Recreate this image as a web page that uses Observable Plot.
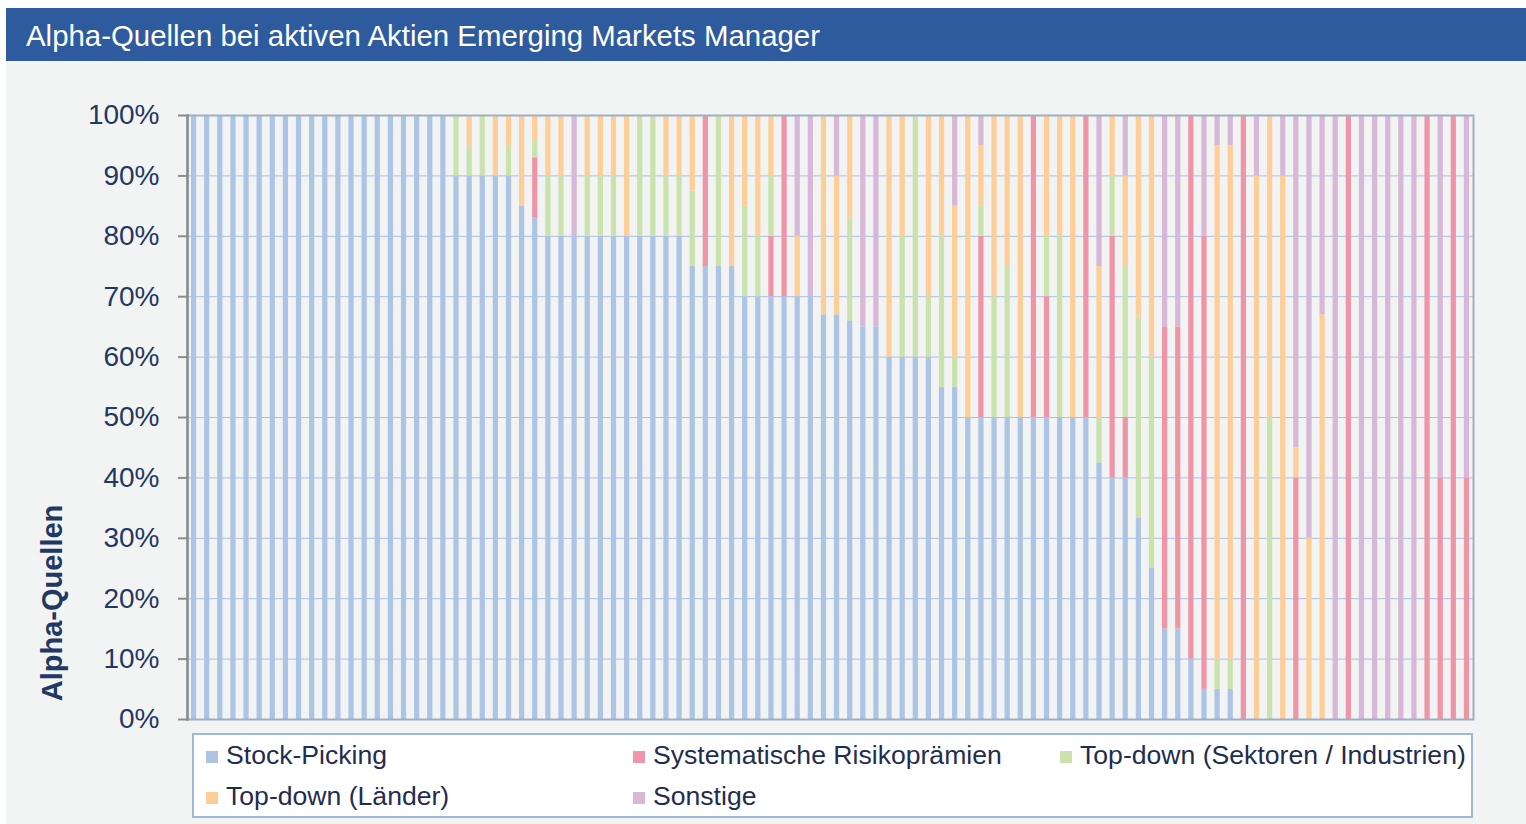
<!DOCTYPE html>
<html><head><meta charset="utf-8">
<script src="https://cdn.jsdelivr.net/npm/d3@7"></script>
<script src="https://cdn.jsdelivr.net/npm/@observablehq/plot@0.6"></script>
<style>
  html, body { margin: 0; padding: 0; background: #ffffff; }
  body { width: 1526px; height: 824px; position: relative; overflow: hidden; font-family: "Liberation Sans", Arial, sans-serif; }
  #title { position: absolute; left: 6px; top: 8px; width: 1500px; height: 53px; padding-left: 20px;
           background: #2E5B9D; color: #ffffff; font-size: 29.4px; line-height: 56px; white-space: nowrap; }
  #panel { position: absolute; left: 6px; top: 61px; width: 1520px; height: 763px; background: #F2F4F3; }
  #chart { position: absolute; left: 0; top: 0; }
  #ytitle { position: absolute; left: 46px; top: 542px; width: 0; height: 0; }
  #ytitle span { position: absolute; transform: translate(-50%, -50%) rotate(-90deg); white-space: nowrap;
                 font-weight: bold; font-size: 29px; color: #1F3864; }
  #legend { position: absolute; left: 186px; top: 672px; width: 1277px; height: 81px; background: #ffffff;
            border: 2px solid #9DB7DD; }
  .item { position: absolute; height: 30px; line-height: 30px; font-size: 26.6px; color: #1F2D50; white-space: nowrap; }
  .sw { display: inline-block; width: 12px; height: 12px; margin-right: 8px; vertical-align: 1px; }
</style></head>
<body>
<div id="title">Alpha-Quellen bei aktiven Aktien Emerging Markets Manager</div>
<div id="panel">
  <div id="chart"></div>
  <div id="ytitle"><span>Alpha-Quellen</span></div>
  <div id="legend"></div>
</div>
<script>
const managers = [1,2,3,4,5,6,7,8,9,10,11,12,13,14,15,16,17,18,19,20,
  21,22,23,24,25,26,27,28,29,30,31,32,33,34,35,36,37,38,39,40,
  41,42,43,44,45,46,47,48,49,50,51,52,53,54,55,56,57,58,59,60,
  61,62,63,64,65,66,67,68,69,70,71,72,73,74,75,76,77,78,79,80,
  81,82,83,84,85,86,87,88,89,90,91,92,93,94,95,96,97,98];

const seriesNames = ["Stock-Picking", "Systematische Risikoprämien", "Top-down (Sektoren / Industrien)", "Top-down (Länder)", "Sonstige"];
const seriesColors = ["#AEC4E5", "#F095A8", "#CBE2AD", "#FDCE98", "#D7B8D7"];
const yTicks = [0, 10, 20, 30, 40, 50, 60, 70, 80, 90, 100];

const stockPicking = [
  100,100,100,100,100,100,100,100,100,100,
  100,100,100,100,100,100,100,100,100,100,
  90,90,90,90,90,85,83,80,80,80,
  80,80,80,80,80,80,80,80,75,75,
  75,75,70,70,70,70,70,70,67,67,
  66,65,65,60,60,60,60,55,55,50,
  50,50,50,50,50,50,50,50,50,42.5,
  40,40,33.3,25,15,15,10,5,5,5,
  0,0,0,0,0,0,0,0,0,0,
  0,0,0,0,0,0,0,0];
const systematisch = [
  0,0,0,0,0,0,0,0,0,0,
  0,0,0,0,0,0,0,0,0,0,
  0,0,0,0,0,0,10,0,0,0,
  0,0,0,0,0,0,0,0,0,25,
  0,0,0,0,10,30,0,0,0,0,
  0,0,0,0,0,0,0,0,0,0,
  30,0,0,0,50,20,0,0,50,0,
  40,10,0,0,50,50,90,75,0,0,
  100,0,0,0,40,0,0,0,100,0,
  0,0,0,0,100,40,100,40];
const sektoren = [
  0,0,0,0,0,0,0,0,0,0,
  0,0,0,0,0,0,0,0,0,0,
  10,5,10,0,5,0,3,10,10,0,
  10,10,10,0,20,20,10,10,12.5,0,
  25,0,15,10,10,0,0,0,0,0,
  17,0,0,0,20,40,10,25,5,0,
  5,20,25,0,0,10,30,0,0,7.5,
  10,25,33.3,35,0,0,0,0,5,5,
  0,0,50,0,0,0,0,0,0,0,
  0,0,0,0,0,0,0,0];
const laender = [
  0,0,0,0,0,0,0,0,0,0,
  0,0,0,0,0,0,0,0,0,0,
  0,5,0,10,5,15,4,10,10,0,
  10,10,10,20,0,0,10,10,12.5,0,
  0,25,15,20,10,0,10,0,33,23,
  17,0,0,40,20,0,30,20,25,50,
  10,30,25,50,0,20,20,50,0,25,
  10,15,33.4,40,0,0,0,0,85,85,
  0,90,50,90,5,30,67,0,0,0,
  0,0,0,0,0,0,0,0];
const sonstige = [
  0,0,0,0,0,0,0,0,0,0,
  0,0,0,0,0,0,0,0,0,0,
  0,0,0,0,0,0,0,0,0,20,
  0,0,0,0,0,0,0,0,0,0,
  0,0,0,0,0,0,20,30,0,10,
  0,35,35,0,0,0,0,0,15,0,
  5,0,0,0,0,0,0,0,0,25,
  0,10,0,0,35,35,0,20,5,5,
  0,10,0,10,55,70,33,100,0,100,
  100,100,100,100,0,60,0,60];

const seriesValues = [stockPicking, systematisch, sektoren, laender, sonstige];
const table = [];
managers.forEach((m, i) => {
  seriesValues.forEach((arr, k) => table.push({manager: m, series: seriesNames[k], value: arr[i]}));
});

const font = '"Liberation Sans", Arial, sans-serif';
const chart = Plot.plot({
  width: 1520,
  height: 670,
  marginLeft: 181,
  marginRight: 53,
  marginTop: 54,
  marginBottom: 12,
  style: {background: "transparent", fontFamily: font, fontSize: "28px", overflow: "visible"},
  x: {type: "band", domain: managers, paddingInner: 0.6, paddingOuter: 0.3, round: false, axis: null},
  y: {domain: [0, 100], axis: null},
  color: {domain: seriesNames, range: seriesColors},
  marks: [
    Plot.gridY(yTicks, {stroke: "#A9BFE3", strokeOpacity: 1, strokeWidth: 1}),
    Plot.barY(table, {x: "manager", y: "value", fill: "series", order: seriesNames}),
    Plot.frame({stroke: "#9EAFC4", strokeWidth: 2}),
    Plot.frame({anchor: "left", stroke: "#8C8C8C", strokeWidth: 2.5}),
    Plot.axisY(yTicks, {
      anchor: "left", label: null, tickSize: 9, tickPadding: 19,
      tickFormat: d => d + "%", stroke: "#8C8C8C", strokeWidth: 2,
      fill: "#1F3864", fontSize: 28
    })
  ]
});
document.getElementById("chart").appendChild(chart);

// legend
const legend = document.getElementById("legend");
const cols = [12, 439, 866];
seriesNames.forEach((name, i) => {
  const div = document.createElement("div");
  div.className = "item";
  div.style.left = cols[i % 3] + "px";
  div.style.top = (i < 3 ? 5 : 46) + "px";
  div.innerHTML = '<span class="sw" style="background:' + seriesColors[i] + '"></span>' + name;
  legend.appendChild(div);
});
</script>
</body></html>
